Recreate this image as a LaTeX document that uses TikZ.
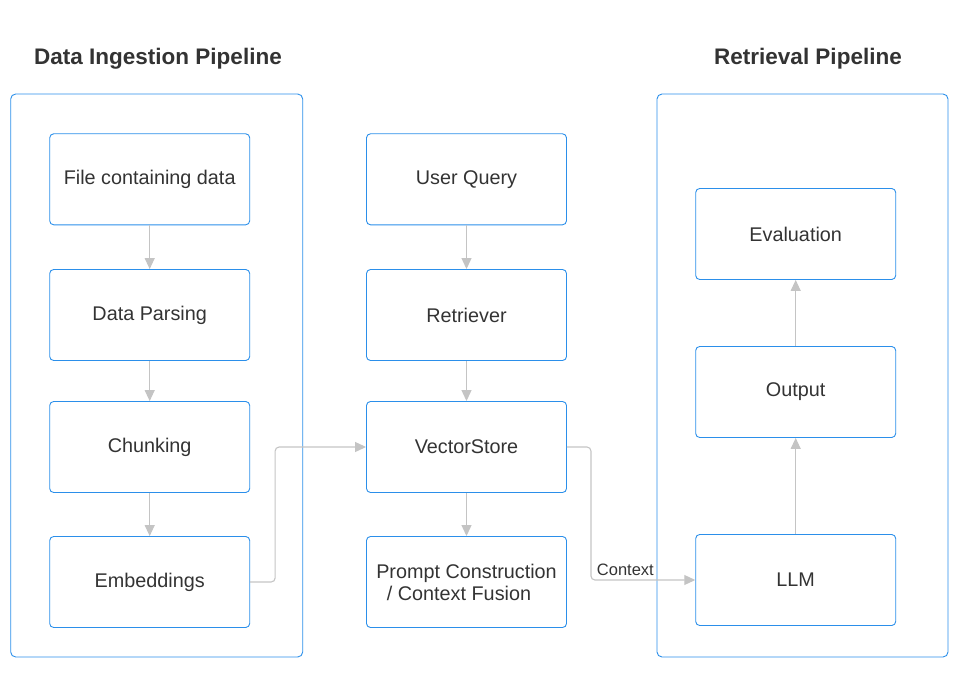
\documentclass[tikz,border=0pt]{standalone}
\usepackage{fontspec}
\setmainfont{Liberation Sans}
\usetikzlibrary{arrows.meta}
\definecolor{boxblue}{HTML}{2B8FEA}
\definecolor{linegray}{HTML}{C4C4C4}
\definecolor{txt}{HTML}{333333}
\tikzset{
  stepbox/.style={draw=boxblue, line width=0.9pt, rounded corners=4pt, minimum width=200pt, minimum height=91pt, text=txt, font=\fontsize{19.8}{22}\selectfont, align=center},
  groupbox/.style={draw=boxblue, line width=0.9pt, rounded corners=5pt, minimum height=563pt},
  flow/.style={draw=linegray, line width=1.1pt, -{Triangle[length=11pt,width=10pt]}, rounded corners=4pt},
  heading/.style={text=txt, font=\fontsize{22.5}{26}\selectfont\bfseries}
}
\begin{document}
\begin{tikzpicture}[x=1pt, y=-1pt]
    \useasboundingbox (0,0) rectangle (972,682);

    % Titoli e contenitori
    \node[heading] (titleL) at (158, 59) {Data Ingestion Pipeline};
    \node[heading] (titleR) at (808, 59) {Retrieval Pipeline};
    \node[groupbox, minimum width=292pt] (ingest) at (156.7, 375.5) {};
    \node[groupbox, minimum width=291pt] (retrieval) at (802.5, 375.5) {};

    % Colonna sinistra
    \node[stepbox] (file) at (149.7, 179.3) {File containing data};
    \node[stepbox] (parse) at (149.7, 315) {Data Parsing};
    \node[stepbox] (chunk) at (149.7, 447) {Chunking};
    \node[stepbox] (embed) at (149.7, 582) {Embeddings};

    % Colonna centrale
    \node[stepbox] (query) at (466.5, 179.3) {User Query};
    \node[stepbox] (retriever) at (466.5, 315) {Retriever};
    \node[stepbox] (vector) at (466.5, 447) {VectorStore};
    \node[stepbox] (prompt) at (466.5, 582) {Prompt Construction\\\hspace*{-15pt}/ Context Fusion};

    % Colonna destra
    \node[stepbox] (eval) at (795.7, 234) {Evaluation};
    \node[stepbox] (output) at (795.7, 392) {Output};
    \node[stepbox] (llm) at (795.7, 580) {LLM};

    % Frecce
    \draw[flow] (file) -- (parse);
    \draw[flow] (parse) -- (chunk);
    \draw[flow] (chunk) -- (embed);
    \draw[flow] (query) -- (retriever);
    \draw[flow] (retriever) -- (vector);
    \draw[flow] (vector) -- (prompt);
    \draw[flow] (llm) -- (output);
    \draw[flow] (output) -- (eval);
    \draw[flow] (embed.east) -- ++(25,0) |- (vector.west);
    \draw[flow] (vector.east) -- ++(24,0) |- (llm.west)
        node[pos=0.665, above, text=txt, font=\fontsize{16.5}{19}\selectfont] (ctx) {Context};

\end{tikzpicture}
\end{document}
